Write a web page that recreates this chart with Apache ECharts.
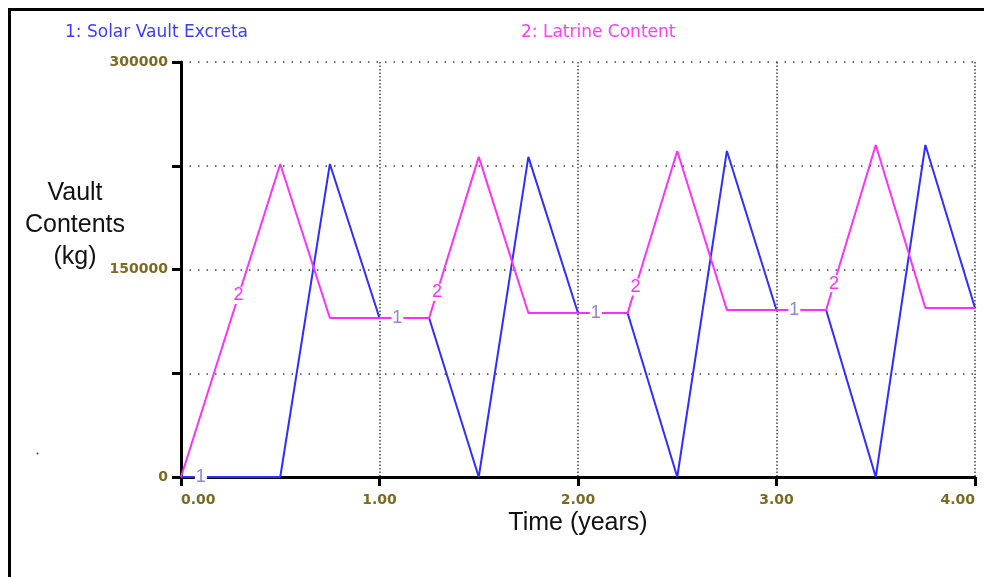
<!DOCTYPE html>
<html>
<head>
<meta charset="utf-8">
<script src="https://cdn.jsdelivr.net/npm/echarts@6/dist/echarts.min.js"></script>
<style>
  html, body { margin: 0; padding: 0; background: #fff; }
  #chart { width: 984px; height: 577px; }
</style>
</head>
<body>
<div id="chart"></div>
<script>
// Simulation output, one value every quarter year
const years = [0, 0.25, 0.5, 0.75, 1, 1.25, 1.5, 1.75, 2, 2.25, 2.5, 2.75, 3, 3.25, 3.5, 3.75, 4];
const solarVaultExcreta = [0, 0, 0, 226300, 114900, 114900, 0, 231400, 118600, 118600, 0, 235700, 120700, 120700, 0, 240000, 122200];
const latrineContent = [0, 113150, 226300, 114900, 114900, 114900, 231400, 118600, 118600, 118600, 235700, 120700, 120700, 120700, 240000, 122200, 122200];

// Where the series numbers sit along each curve (time in years)
const vaultTagTimes = [0.1, 1.09, 2.09, 3.09];
const latrineTagTimes = [0.29, 1.29, 2.29, 3.29];

const seriesNames = ['1: Solar Vault Excreta', '2: Latrine Content'];
const yTickLabels = [0, 150000, 300000];

const blue = '#2e2eff';
const pink = '#ff30ff';
const tickColor = '#7a6a22';

function valueAt(xs, ys, t) {
  for (let i = 0; i < xs.length - 1; i++) {
    if (t >= xs[i] && t <= xs[i + 1]) {
      const f = (t - xs[i]) / (xs[i + 1] - xs[i]);
      return ys[i] + f * (ys[i + 1] - ys[i]);
    }
  }
  return ys[ys.length - 1];
}

function pairs(xs, ys) { return xs.map((x, i) => [x, ys[i]]); }

// Series number tags: a small white box that breaks the curve, with the digit on it
function tags(times, vals, text, color) {
  return {
    symbol: 'rect',
    symbolSize: [12, 17],
    silent: true,
    itemStyle: { color: '#fff' },
    label: {
      show: true, position: 'inside', formatter: text,
      color: color, fontFamily: 'Liberation Sans', fontSize: 18
    },
    data: times.map(t => ({ coord: [t, valueAt(years, vals, t)] }))
  };
}

const chart = echarts.init(document.getElementById('chart'), null, { renderer: 'canvas' });

chart.setOption({
  animation: false,
  backgroundColor: '#fff',
  grid: { left: 181, right: 9, top: 62, bottom: 100, containLabel: false },
  xAxis: {
    type: 'value', min: 0, max: 4, interval: 1,
    axisLine: { show: true, onZero: false, lineStyle: { color: '#000', width: 3 } },
    axisTick: { show: true, length: 9, lineStyle: { color: '#000', width: 3 } },
    axisLabel: {
      margin: 16, color: tickColor, fontFamily: 'DejaVu Sans', fontWeight: 'bold', fontSize: 14,
      alignMinLabel: 'left', alignMaxLabel: 'right',
      formatter: v => v.toFixed(2)
    },
    splitLine: { show: true, lineStyle: { color: '#444', width: 1.5, type: [1.5, 2] } }
  },
  yAxis: {
    type: 'value', min: 0, max: 300000, interval: 75000,
    axisLine: { show: true, lineStyle: { color: '#000', width: 3 } },
    axisTick: { show: true, length: 9, lineStyle: { color: '#000', width: 3 } },
    axisLabel: {
      margin: 13, color: tickColor, fontFamily: 'DejaVu Sans', fontWeight: 'bold', fontSize: 14,
      formatter: v => (yTickLabels.indexOf(v) >= 0 ? String(v) : '')
    },
    splitLine: { show: true, lineStyle: { color: '#444', width: 1.5, type: [1.5, 7] } }
  },
  series: [
    {
      name: seriesNames[0], type: 'line', data: pairs(years, solarVaultExcreta),
      showSymbol: false, lineStyle: { color: blue, width: 2 }, z: 3,
      markPoint: tags(vaultTagTimes, solarVaultExcreta, '1', '#8f86d8')
    },
    {
      name: seriesNames[1], type: 'line', data: pairs(years, latrineContent),
      showSymbol: false, lineStyle: { color: pink, width: 2 }, z: 4,
      markPoint: tags(latrineTagTimes, latrineContent, '2', pink)
    }
  ],
  graphic: [
    // frame edges
    { type: 'line', shape: { x1: 9.5, y1: 8, x2: 9.5, y2: 577 }, style: { stroke: '#000', lineWidth: 3 } },
    { type: 'line', shape: { x1: 8, y1: 9.5, x2: 984, y2: 9.5 }, style: { stroke: '#000', lineWidth: 3 } },
    // series names
    { type: 'text', left: 65, top: 24, style: { text: seriesNames[0], fill: '#3c3cff', font: '17px "DejaVu Sans"' } },
    { type: 'text', left: 521, top: 24, style: { text: seriesNames[1], fill: '#ff3cff', font: '17px "DejaVu Sans"' } },
    // axis titles
    { type: 'text', x: 75, y: 177, style: { text: 'Vault\nContents\n(kg)', fill: '#111', font: '25px "Liberation Sans"', align: 'center', lineHeight: 32 } },
    { type: 'text', x: 578, y: 511, style: { text: 'Time (years)', fill: '#111', font: '25px "Liberation Sans"', align: 'center' } },
    // stray speck
    { type: 'circle', shape: { cx: 37.5, cy: 453.5, r: 1 }, style: { fill: '#444' } }
  ]
});
</script>
</body>
</html>
